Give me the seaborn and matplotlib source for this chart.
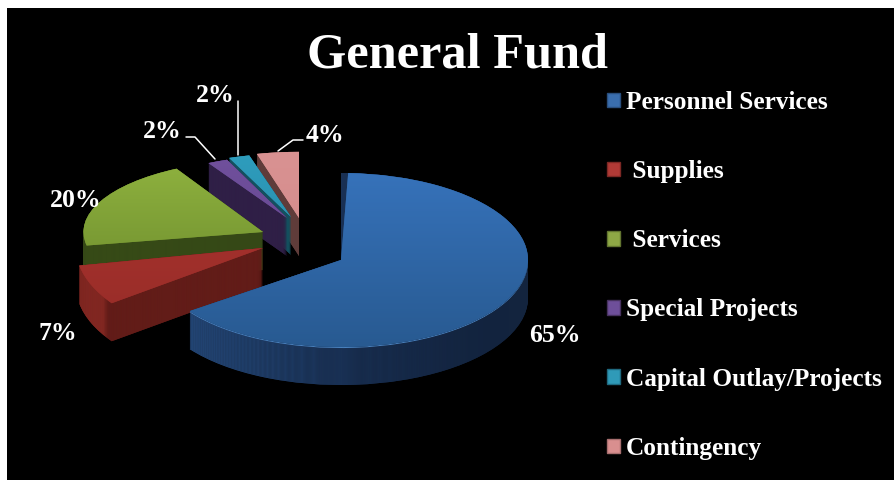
import numpy as np
import matplotlib
matplotlib.use("Agg")
import matplotlib.pyplot as plt
from matplotlib.patches import Wedge, Patch
from matplotlib.colors import LinearSegmentedColormap as LSC
from matplotlib.transforms import Affine2D
import seaborn as sns

# ---- data ----
categories = ["Personnel Services", " Supplies", " Services", "Special Projects",
              "Capital Outlay/Projects", "Contingency"]
values = [65, 7, 20, 2, 2, 4]
pct_labels = ["65%", "7%", "20%", "2%", "2%", "4%"]
title = "General Fund"

# ---- layout / style (pixels of the 895x480 picture) ----
W, H = 895, 480
RX, RY, DEPTH = 187.0, 87.0, 38
slice_center = [(341, 260), (263, 248), (263, 232), (287, 218), (291, 217), (299, 218)]
slice_radius = [1.0, 1.0, 1.0, 0.72, 0.73, 0.76]
slice_stretch = [(1, 1), (1, 1.08), (0.96, 0.83), (1.21, 1), (1.23, 1), (1.19, 1)]
top_colors = [("#3672ba", "#285a91"), ("#ad3430", "#962c27"), ("#8fb23f", "#6b8a2c"),
              ("#70509c", "#644690"), ("#2e9dbd", "#2888a6"), ("#d99292", "#d28a8a")]
side_stops = [[(0, "#2a528a"), (.12, "#25497a"), (.55, "#182e50"), (.9, "#12233e"), (1, "#14253f")],
              [(0, "#8b2b25"), (.07, "#8b2b25"), (.085, "#621c18"), (1, "#621c18")],
              [(0, "#384c18"), (1, "#344716")],
              [(0, "#2f1f46"), (1, "#2f1f46")],
              [(0, "#14505f"), (1, "#14505f")],
              [(0, "#5f3c3a"), (1, "#5f3c3a")]]
legend_colors = ["#3a6eae", "#b03a36", "#8ea845", "#6e4f9a", "#2f9ab8", "#d98f8f"]
legend_edges = ["#2a4f7e", "#7d2824", "#627530", "#47325f", "#1f6a80", "#a86f6f"]
label_pos = [(555, 336), (58, 333), (76, 200), (162, 132), (215, 96), (325, 135)]
leaders = {3: [(186, 137), (195, 137), (215, 159)],
           4: [(238, 101), (238, 155)],
           5: [(278, 151), (293, 140), (303, 140)]}
draw_base = [9000, 7000, 6000, 3000, 2000, 1000]

sns.set_theme(style="dark", rc={"axes.facecolor": "black", "figure.facecolor": "white"})
plt.rcParams["font.family"] = ["Liberation Serif", "DejaVu Serif"]

fig = plt.figure(figsize=(W / 100, H / 100), dpi=100)
ax = fig.add_axes([7 / W, 0, (W - 7) / W, (H - 8) / H])
ax.set_facecolor("black")


def dx(px):
    return px / RX


def dy(py):
    return -py / RY


wedges, _ = ax.pie(values, startangle=90, counterclock=False, radius=1)
ax.set_aspect("auto")
grad = np.linspace(0, 1, 256)

for i, w in enumerate(wedges):
    base = draw_base[i]
    cx, cy = slice_center[i]
    r = slice_radius[i]
    sx, sy = slice_stretch[i]
    t1, t2 = w.theta1, w.theta2
    x0, x1 = dx(cx) - r * sx, dx(cx) + r * sx

    def warp(c):
        return (Affine2D().translate(-c[0], -c[1]).scale(sx, sy).translate(c[0], c[1]) + ax.transData)

    side_cmap = LSC.from_list(f"side{i}", side_stops[i])
    for k in range(DEPTH, -1, -1):
        c = (dx(cx), dy(cy + k))
        layer = Wedge(c, r, t1, t2, transform=warp(c),
                      facecolor=side_stops[i][-1][1], edgecolor="none", zorder=base + (DEPTH - k) * 2)
        ax.add_patch(layer)
        if i == 0 and k == 1:
            layer.set_facecolor("#4a82bf")
            continue
        im = ax.imshow(grad[None, :], extent=(x0, x1, c[1] - r * sy, c[1] + r * sy), aspect="auto",
                       cmap=side_cmap, vmin=0, vmax=1, zorder=base + (DEPTH - k) * 2 + 1)
        im.set_clip_path(layer)

    c = (dx(cx), dy(cy))
    w.set_center(c)
    w.set_radius(r)
    w.set_transform(warp(c))
    if i == 0:
        w.set_theta2(t2 - 2.2)
    w.set_facecolor(top_colors[i][1])
    w.set_edgecolor("none")
    w.set_zorder(base + 200)
    top_cmap = LSC.from_list(f"top{i}", list(top_colors[i]))
    im = ax.imshow(grad[:, None], origin="upper", extent=(x0, x1, c[1] - r * sy, c[1] + r * sy), aspect="auto",
                   cmap=top_cmap, vmin=0, vmax=1, zorder=base + 201)
    im.set_clip_path(w)

for pts in leaders.values():
    ax.plot([dx(p[0]) for p in pts], [dy(p[1]) for p in pts], color="white", lw=1.1, zorder=20000)

ax.set_xlim(dx(7), dx(W))
ax.set_ylim(dy(H), dy(8))
ax.set_xticks([])
ax.set_yticks([])
ax.set_frame_on(True)
ax.patch.set_visible(True)
sns.despine(ax=ax, left=True, bottom=True)

for txt, (px, py) in zip(pct_labels, label_pos):
    fig.text(px / W, 1 - py / H, txt, color="white", fontsize=18.5, fontweight="bold",
             ha="center", va="center")

fig.text(458 / W, 1 - 56 / H, title, color="white", fontsize=36.3, fontweight="bold",
         ha="center", va="center")

handles = [Patch(facecolor=c, edgecolor=e, linewidth=1) for c, e in zip(legend_colors, legend_edges)]
leg = fig.legend(handles, categories, loc="upper left", bbox_to_anchor=(607 / W, 1 - 91 / H),
                 bbox_transform=fig.transFigure, frameon=False, borderpad=0, borderaxespad=0,
                 handlelength=0.51, handleheight=0.51, handletextpad=0.24, labelspacing=1.826,
                 labelcolor="white", prop={"weight": "bold", "size": 18.2})

fig.savefig("out.png", dpi=100, facecolor="white")
